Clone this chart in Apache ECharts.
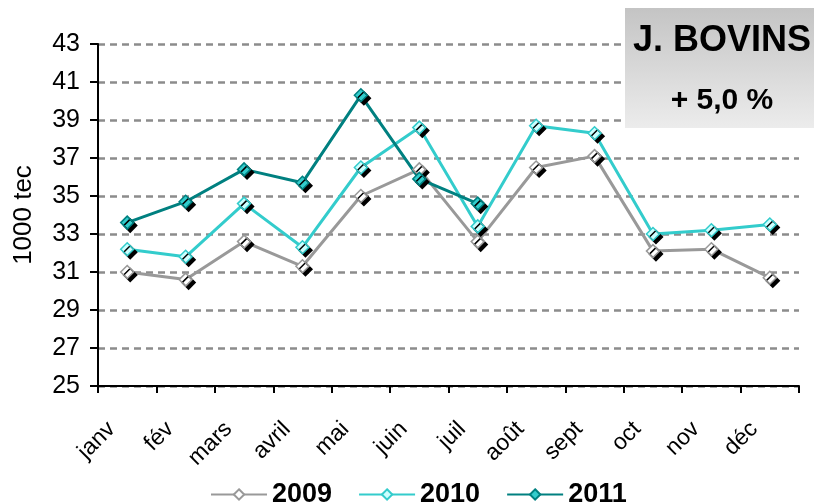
<!DOCTYPE html>
<html>
<head>
<meta charset="utf-8">
<script src="https://cdn.jsdelivr.net/npm/echarts@6/dist/echarts.min.js"></script>
<style>
  html, body { margin: 0; padding: 0; background: #fff; }
  #chart { width: 814px; height: 502px; }
</style>
</head>
<body>
<div id="chart"></div>
<script>
var months = ['janv', 'fév', 'mars', 'avril', 'mai', 'juin', 'juil', 'août', 'sept', 'oct', 'nov', 'déc']
var v2009 = [31.0, 30.6, 32.6, 31.3, 35.0, 36.4, 32.6, 36.5, 37.1, 32.1, 32.2, 30.7]
var v2010 = [32.2, 31.8, 34.6, 32.3, 36.5, 38.6, 33.4, 38.7, 38.3, 33.0, 33.2, 33.5]
var v2011 = [33.6, 34.7, 36.4, 35.7, 40.3, 35.9, 34.6]
var yMin = 25
var yMax = 43
var yStep = 2

var font = 'Arial, "Liberation Sans", sans-serif'

function serie (name, data, line, fill) {
    return {
        name: name,
        type: 'line',
        data: data,
        symbol: 'diamond',
        symbolSize: 13,
        z: 3,
        lineStyle: { color: line, width: 3 },
        itemStyle: {
            color: fill,
            borderColor: line,
            borderWidth: 1.5,
            shadowColor: '#000',
            shadowBlur: 0,
            shadowOffsetX: 3,
            shadowOffsetY: 3
        },
        emphasis: { disabled: true }
    }
}

var myChart = echarts.init(document.getElementById('chart'), null, { renderer: 'canvas' })
var option = {
    animation: false,
    grid: { left: 98, right: 15, top: 44, bottom: 116 },
    legend: {
        left: 205,
        top: 476,
        itemWidth: 56,
        itemHeight: 13,
        itemGap: 26,
        textStyle: { fontFamily: font, fontSize: 27, fontWeight: 'bold', color: '#000' },
        itemStyle: { shadowOffsetX: 0, shadowOffsetY: 0, shadowColor: 'transparent' },
        data: ['2009', '2010', '2011']
    },
    xAxis: {
        type: 'category',
        data: months,
        boundaryGap: true,
        axisLine: { lineStyle: { color: '#000', width: 2 } },
        axisTick: { show: true, length: 7, lineStyle: { color: '#000', width: 2 } },
        axisLabel: {
            rotate: 45,
            margin: 24,
            padding: [0, 22, 0, 0],
            fontFamily: font,
            fontSize: 23,
            color: '#000'
        }
    },
    yAxis: {
        type: 'value',
        min: yMin,
        max: yMax,
        interval: yStep,
        name: '1000 tec',
        nameLocation: 'middle',
        nameGap: 61,
        nameTextStyle: { fontFamily: font, fontSize: 26, color: '#000' },
        axisLine: { show: true, lineStyle: { color: '#000', width: 2 } },
        axisTick: { show: true, length: 8, lineStyle: { color: '#000', width: 2 } },
        axisLabel: { margin: 18, fontFamily: font, fontSize: 25, color: '#000' },
        splitLine: { lineStyle: { color: '#8c8c8c', width: 2.5, type: [7, 5] } }
    },
    series: [
        serie('2009', v2009, '#999999', '#ffffff'),
        serie('2010', v2010, '#33cccc', '#ccffff'),
        serie('2011', v2011, '#008080', '#33cccc')
    ],
    graphic: [
        {
            type: 'rect',
            z: 10,
            shape: { x: 625, y: 8, width: 200, height: 120 },
            style: {
                fill: new echarts.graphic.LinearGradient(0, 0, 0, 1, [
                    { offset: 0, color: '#c4c4c4' },
                    { offset: 1, color: '#ececec' }
                ])
            }
        },
        {
            type: 'text',
            z: 11,
            x: 722,
            y: 41,
            style: { text: 'J. BOVINS', fontFamily: font, fontSize: 36, fontWeight: 'bold', fill: '#000', align: 'center', verticalAlign: 'middle' }
        },
        {
            type: 'text',
            z: 11,
            x: 722,
            y: 101,
            style: { text: '+ 5,0 %', fontFamily: font, fontSize: 30, fontWeight: 'bold', fill: '#000', align: 'center', verticalAlign: 'middle' }
        }
    ]
}
myChart.setOption(option)
</script>
</body>
</html>
